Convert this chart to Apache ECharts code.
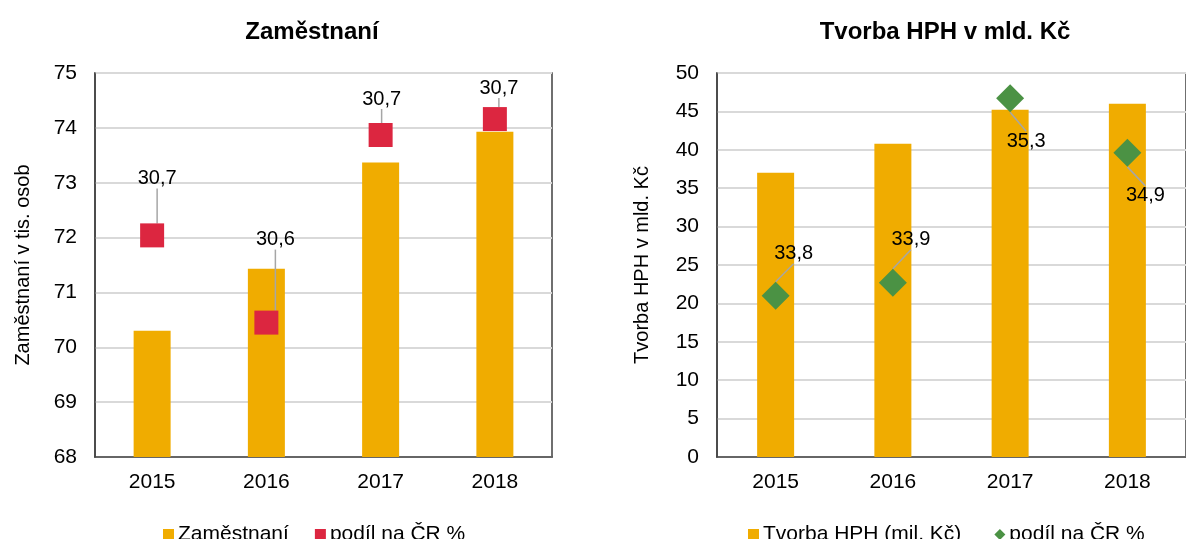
<!DOCTYPE html>
<html>
<head>
<meta charset="utf-8">
<script src="https://cdn.jsdelivr.net/npm/echarts@6/dist/echarts.min.js"></script>
<style>
  html, body { margin: 0; padding: 0; background: #fff; }
  #chart { width: 1186px; height: 539px; }
</style>
</head>
<body>
<div id="chart"></div>
<script>
// data
const years = ['2015', '2016', '2017', '2018'];

const zamestnani = [70.3, 71.43, 73.37, 73.93];          // bars, tis. osob
const zamPodilPos = [72.04, 70.45, 73.87, 74.16];         // where the red squares sit
const zamPodilText = ['30,7', '30,6', '30,7', '30,7'];   // their labels

const hph = [37.0, 40.8, 45.2, 46.0];                     // bars, mld. Kč
const hphPodilPos = [21.0, 22.7, 46.7, 39.6];             // where the green diamonds sit
const hphPodilText = ['33,8', '33,9', '35,3', '34,9'];

// label offsets from marker centre (px)
const zamLabelOff = [[5, -57], [9, -83], [1, -36], [4, -31]];
const hphLabelOff = [[18, -42], [18, -43], [16, 43], [18, 43]];

const ORANGE = '#F0AC00';
const RED = '#DC2640';
const GREEN = '#4B9244';
const FONT = 'Liberation Sans, Arial, sans-serif';

const chart = echarts.init(document.getElementById('chart'));

function catAxis(gridIndex) {
    return {
        type: 'category',
        gridIndex: gridIndex,
        data: years,
        axisTick: { show: false },
        axisLine: { lineStyle: { color: '#404040', width: 1.5 } },
        axisLabel: { color: '#000', fontSize: 21, fontFamily: FONT, margin: 15 }
    };
}

function valAxis(gridIndex, min, max, interval, name, gap) {
    return {
        type: 'value',
        gridIndex: gridIndex,
        min: min, max: max, interval: interval,
        name: name,
        nameLocation: 'middle',
        nameGap: gap,
        nameTextStyle: { color: '#000', fontSize: 20, fontFamily: FONT },
        axisLine: { show: true, lineStyle: { color: '#404040', width: 1.5 } },
        axisTick: { show: false },
        splitLine: { lineStyle: { color: '#D9D9D9', width: 2 } },
        axisLabel: { color: '#000', fontSize: 21, fontFamily: FONT, margin: 18 }
    };
}

function markerSeries(name, axisIdx, pos, texts, offs, symbol, size, color) {
    return {
        name: name,
        type: 'scatter',
        xAxisIndex: axisIdx,
        yAxisIndex: axisIdx,
        data: pos,
        symbol: symbol,
        symbolSize: size,
        itemStyle: { color: color, opacity: 1 },
        z: 5,
        label: {
            show: true,
            position: 'inside',
            formatter: p => texts[p.dataIndex],
            color: '#000',
            fontSize: 20,
            fontFamily: FONT
        },
        labelLayout: p => ({ dx: offs[p.dataIndex][0], dy: offs[p.dataIndex][1] }),
        labelLine: { show: true, lineStyle: { color: '#A6A6A6', width: 1.5 } }
    };
}

chart.setOption({
    animation: false,
    backgroundColor: '#fff',
    title: [
        { text: 'Zaměstnaní', left: 307, top: 15, textAlign: 'center',
          textStyle: { fontSize: 24, fontWeight: 'bold', color: '#000', fontFamily: FONT } },
        { text: 'Tvorba HPH v mld. Kč', left: 940, top: 15, textAlign: 'center',
          textStyle: { fontSize: 24, fontWeight: 'bold', color: '#000', fontFamily: FONT } }
    ],
    legend: [
        { data: [{ name: 'Zaměstnaní', icon: 'rect' }, { name: 'podíl na ČR % ', icon: 'rect' }],
          left: 158, top: 519, itemWidth: 11, itemHeight: 11, itemGap: 26,
          textStyle: { fontSize: 21, color: '#000', fontFamily: FONT, padding: [0, 0, 0, -1] } },
        { data: [{ name: 'Tvorba HPH (mil. Kč)', icon: 'rect' }, { name: 'podíl na ČR %', icon: 'diamond' }],
          left: 743, top: 519, itemWidth: 11, itemHeight: 11, itemGap: 33,
          textStyle: { fontSize: 21, color: '#000', fontFamily: FONT, padding: [0, 0, 0, -1] } }
    ],
    grid: [
        { left: 95, top: 73, width: 457, height: 384, show: true, borderColor: '#404040', borderWidth: 1.5 },
        { left: 717, top: 73, width: 476, height: 384, show: true, borderColor: '#404040', borderWidth: 1.5 }
    ],
    xAxis: [catAxis(0), catAxis(1)],
    yAxis: [
        valAxis(0, 68, 75, 1, 'Zaměstnaní v tis. osob', 62),
        valAxis(1, 0, 50, 5, 'Tvorba HPH v mld. Kč', 65)
    ],
    series: [
        { name: 'Zaměstnaní', type: 'bar', xAxisIndex: 0, yAxisIndex: 0, data: zamestnani,
          barWidth: 37, itemStyle: { color: ORANGE } },
        markerSeries('podíl na ČR % ', 0, zamPodilPos, zamPodilText, zamLabelOff, 'rect', 24, RED),
        { name: 'Tvorba HPH (mil. Kč)', type: 'bar', xAxisIndex: 1, yAxisIndex: 1, data: hph,
          barWidth: 37, itemStyle: { color: ORANGE } },
        markerSeries('podíl na ČR %', 1, hphPodilPos, hphPodilText, hphLabelOff, 'diamond', 28, GREEN)
    ]
});
</script>
</body>
</html>
